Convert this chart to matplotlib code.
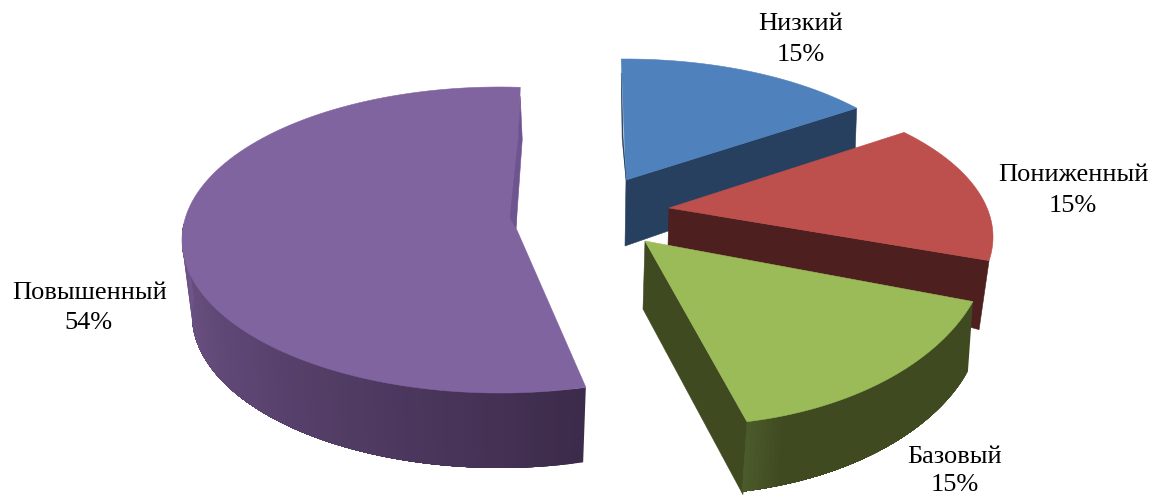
import numpy as np
import matplotlib
matplotlib.use("Agg")
import matplotlib.pyplot as plt
from matplotlib.patches import Polygon
from matplotlib.colors import to_rgb

names = ["Низкий", "Пониженный", "Базовый", "Повышенный"]
values = [15, 15, 15, 54]

top_colors = ["#4f81bd", "#bd4f4c", "#9bbb59", "#8064a0"]
cut_colors = ["#27405f", "#4d1f1e", "#3f4a20", "#3d2b4b"]
wall_from = [None, None, "#3f4a20", "#3d2b4b"]
wall_to = [None, None, "#4b5a2a", "#6f5589"]
wall_ramp_start = [None, None, 0.88, 0.0]

# per-slice projection of the exploded 3-D pie (style, not data)
apex = [(626, 180), (669, 208), (645, 241), (516, 228)]
centre = [(625, 209), (669, 237), (690, 240), (500, 240)]
axes_ab = [(313, 150), (324, 152), (300, 185), (318, 153)]
ang_map = [(0.888, -0.7), (0.961, -5.9), (1.093, -9.8), (1.015, -1.75)]
cut_apex = [(-1, 66), (-1, 38), (-2, 68), None]
cut_rim = [(-2, 58), (-10, 69), (-4, 73), None]
wall_shift = [None, None, (-5, 70, 0), (0, 75, -10)]
wall_limit = [None, None, None, 276]

label_lines = [
    [(801, 24), (801, 55)],
    [(1073, 175), (1073, 206)],
    [(955, 457), (955, 485)],
    [(90, 293), (88, 323)],
]

fig = plt.figure(figsize=(11.53, 4.95), dpi=100)
ax = fig.add_axes([0, 0, 1, 1])
ax.set_xlim(0, 1153)
ax.set_ylim(495, 0)
ax.axis("off")

edges = np.concatenate([[0], np.cumsum(values)]) / sum(values) * 360


def rim(i, g, dx=0, dy=0, da=0):
    cx, cy = centre[i]
    a, b = axes_ab[i]
    r = np.radians(g)
    return np.column_stack([cx + dx + (a + da) * np.sin(r), cy + dy - b * np.cos(r)])


def poly(points, color, z, lw=0.4):
    ec = color if lw > 0 else "none"
    ax.add_patch(Polygon(points, closed=True, facecolor=color, edgecolor=ec, lw=lw, zorder=z))


for i in [3, 0, 1, 2]:
    z = {3: 1, 0: 2, 1: 3, 2: 4}[i]
    s, p = ang_map[i]
    g0, g1 = p + s * edges[i], p + s * edges[i + 1]
    gs = np.linspace(g0, g1, 120)
    top = rim(i, gs)
    ap = np.array(apex[i], float)

    if cut_apex[i] is not None:
        end = top[-1]
        poly([ap, end, end + cut_rim[i], ap + cut_apex[i]], cut_colors[i], z)

    if wall_shift[i] is not None:
        dx, dy, da = wall_shift[i]
        lim = wall_limit[i] if wall_limit[i] else g1
        n = 60
        c0, c1 = np.array(to_rgb(wall_from[i])), np.array(to_rgb(wall_to[i]))
        r0 = wall_ramp_start[i]
        # overlapping bands, each painted over the previous one, so no seams appear
        for k in range(n):
            t = k / (n - 1)
            start = g0 + (lim - g0) * k / n
            band = np.linspace(start, lim, max(2, (n - k) * 2))
            a = rim(i, band)
            b = rim(i, band, dx, dy, da)
            col = c0 + (c1 - c0) * max(0, (t - r0) / (1 - r0))
            poly(np.vstack([a, b[::-1]]), tuple(col), z + 0.001 * k, lw=0)

    poly(np.vstack([ap, top]), top_colors[i], z + 0.5)

    if i == 0:
        st = top[0]
        poly([st + (0, 14), st + (1, 80), ap, st + (2, 80)], "#27405f", z + 0.6)
    if i == 3:
        en = top[-1]
        poly([en + (0, 9), en + (2, 52), ap, ap + (-6, -10), en + (-2, 52)], "#6f5590", z + 0.6)

for i, (nm, v) in enumerate(zip(names, values)):
    for (x, y), txt in zip(label_lines[i], [nm, f"{v}%"]):
        ax.text(x, y, txt, ha="center", va="center", family="Liberation Serif",
                fontsize=19, color="black", zorder=10)

fig.savefig("out.png", dpi=100, facecolor="white")
